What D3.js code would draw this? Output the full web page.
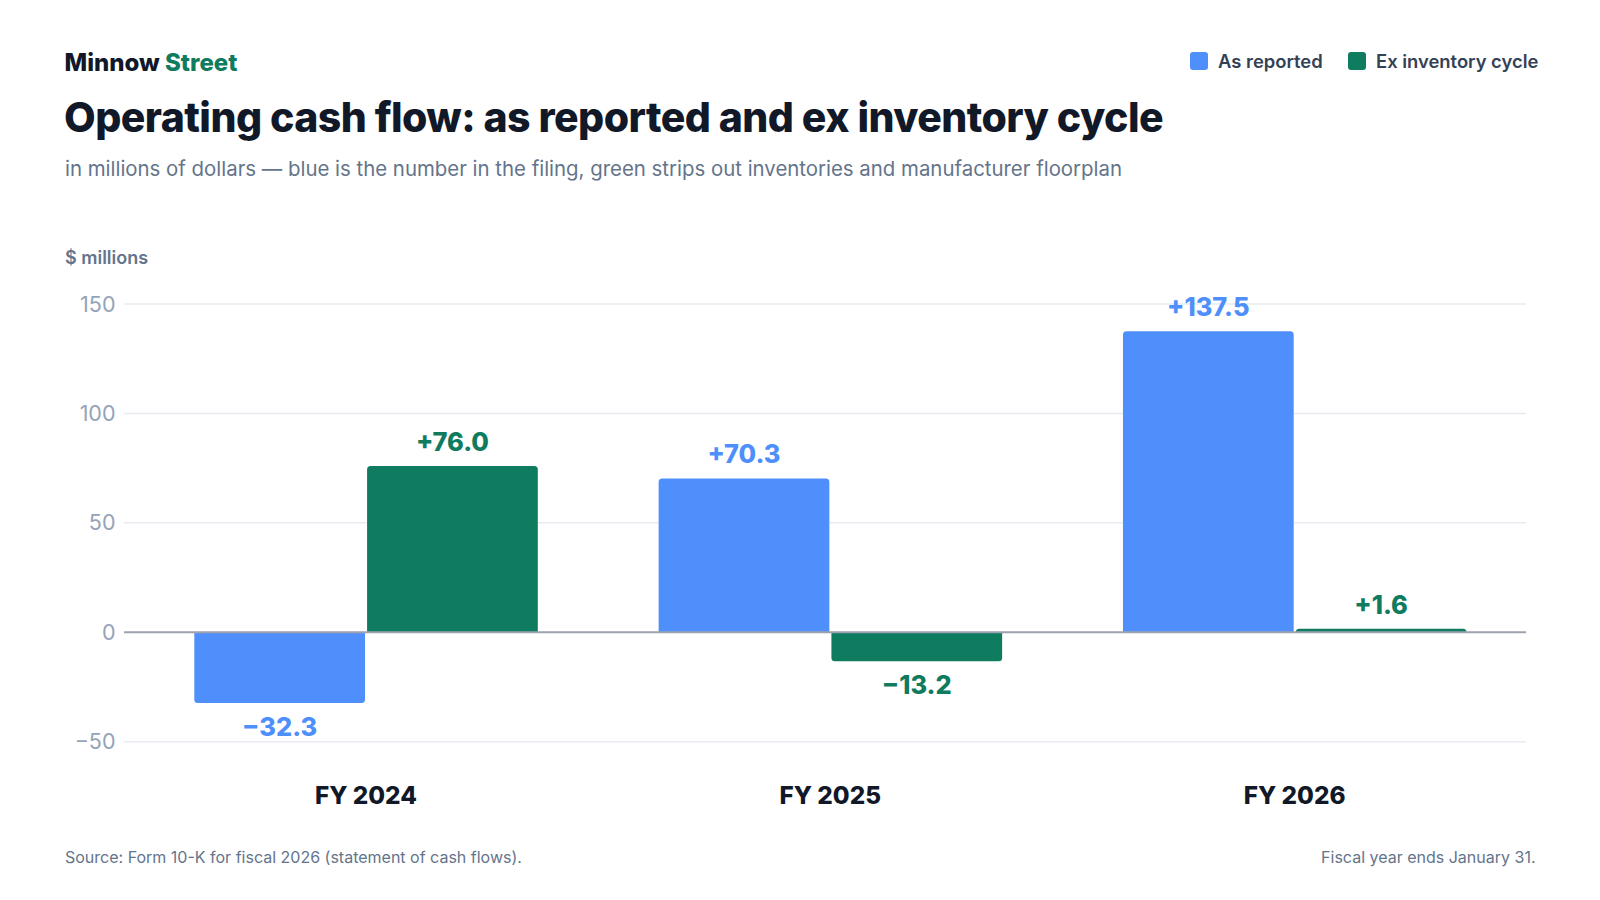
<!DOCTYPE html>
<html>
<head>
<meta charset="utf-8">
<script src="https://cdn.jsdelivr.net/npm/d3@7"></script>
<style>
body { margin: 0; background: #fff; }
svg { display: block; font-family: Inter, "Noto Sans", sans-serif; }
</style>
</head>
<body>
<script>
// chart data
var years = ["FY 2024", "FY 2025", "FY 2026"]
var series = ["As reported", "Ex inventory cycle"]
var asReported = [-32.3, 70.3, 137.5]
var exInventory = [76.0, -13.2, 1.6]
var yTicks = [-50, 0, 50, 100, 150]

var width = 1600, height = 900
var colors = {"As reported": "#4f8ffb", "Ex inventory cycle": "#0f7b5f"}

var svg = d3.select("body").append("svg")
	.attr("width", width)
	.attr("height", height)

// header
var brand = svg.append("text")
	.attr("x", 64.5).attr("y", 70.5)
	.attr("font-size", 24).attr("font-weight", 800)
	.attr("fill", "#111827")
brand.append("tspan").text("Minnow ")
brand.append("tspan").attr("fill", "#0f7b5f").text("Street")

svg.append("text")
	.attr("x", 64).attr("y", 132)
	.attr("font-size", 41).attr("font-weight", 800)
	.attr("letter-spacing", -0.55)
	.attr("fill", "#111827")
	.text("Operating cash flow: as reported and ex inventory cycle")

svg.append("text")
	.attr("x", 65).attr("y", 175.5)
	.attr("font-size", 20.4)
	.attr("fill", "#64748b")
	.text("in millions of dollars \u2014 blue is the number in the filing, green strips out inventories and manufacturer floorplan")

// legend
var legend = svg.append("g")
var legendItems = [
	{name: series[0], x: 1190},
	{name: series[1], x: 1348}
]
legendItems.forEach(function(d) {
	legend.append("rect")
		.attr("x", d.x).attr("y", 52)
		.attr("width", 18).attr("height", 18)
		.attr("rx", 3)
		.attr("fill", colors[d.name])
	legend.append("text")
		.attr("x", d.x + 28).attr("y", 68.3)
		.attr("font-size", 18.4).attr("font-weight", 600)
		.attr("fill", "#334155")
		.text(d.name)
})

svg.append("text")
	.attr("x", 65).attr("y", 264)
	.attr("font-size", 18).attr("font-weight", 600)
	.attr("fill", "#64748b")
	.text("$ millions")

// scales
var y = d3.scaleLinear()
	.domain([-50, 150])
	.range([741.7, 304])

var x0 = d3.scaleBand()
	.domain(years)
	.range([133.8, 1526.8])

var x1 = d3.scaleBand()
	.domain(series)
	.range([60.5, 404])
	.paddingInner(0.012)

var gridLeft = 124, gridRight = 1526

// gridlines + tick labels
svg.append("g").selectAll("line")
	.data(yTicks.filter(function(t) { return t !== 0 }))
	.enter().append("line")
	.attr("x1", gridLeft).attr("x2", gridRight)
	.attr("y1", function(t) { return y(t) }).attr("y2", function(t) { return y(t) })
	.attr("stroke", "#e8ecf1").attr("stroke-width", 1.5)

svg.append("g").selectAll("text")
	.data(yTicks)
	.enter().append("text")
	.attr("x", 115.5)
	.attr("y", function(t) { return y(t) + 7.5 })
	.attr("text-anchor", "end")
	.attr("font-size", 21.5)
	.attr("fill", "#94a3b8")
	.text(function(t) { return t < 0 ? "\u2212" + Math.abs(t) : t })

// bars
var rows = []
years.forEach(function(yr, i) {
	rows.push({year: yr, s: series[0], v: asReported[i]})
	rows.push({year: yr, s: series[1], v: exInventory[i]})
})

function barPath(d) {
	var bx = x0(d.year) + x1(d.s)
	var bw = x1.bandwidth()
	var y0 = y(0), yv = y(d.v)
	var r = Math.min(3.5, Math.abs(yv - y0))
	var k = d.v >= 0 ? 1 : -1
	return "M" + bx + "," + y0 +
		"V" + (yv + k * r) +
		"Q" + bx + "," + yv + " " + (bx + r) + "," + yv +
		"H" + (bx + bw - r) +
		"Q" + (bx + bw) + "," + yv + " " + (bx + bw) + "," + (yv + k * r) +
		"V" + y0 + "Z"
}

svg.append("g").selectAll("path")
	.data(rows)
	.enter().append("path")
	.attr("d", barPath)
	.attr("fill", function(d) { return colors[d.s] })

// zero line
svg.append("line")
	.attr("x1", gridLeft).attr("x2", gridRight)
	.attr("y1", y(0)).attr("y2", y(0))
	.attr("stroke", "#9ca3af").attr("stroke-width", 2)

// value labels
svg.append("g").selectAll("text")
	.data(rows)
	.enter().append("text")
	.attr("x", function(d) { return x0(d.year) + x1(d.s) + x1.bandwidth() / 2 })
	.attr("y", function(d) { return d.v >= 0 ? y(d.v) - 15 : y(d.v) + 33 })
	.attr("text-anchor", "middle")
	.attr("font-size", 25.4).attr("font-weight", 800)
	.attr("fill", function(d) { return colors[d.s] })
	.text(function(d) { return (d.v >= 0 ? "+" : "\u2212") + Math.abs(d.v).toFixed(1) })

// category labels
svg.append("g").selectAll("text")
	.data(years)
	.enter().append("text")
	.attr("x", function(d) { return x0(d) + x0.bandwidth() / 2 })
	.attr("y", 803.5)
	.attr("text-anchor", "middle")
	.attr("font-size", 24.3).attr("font-weight", 800)
	.attr("fill", "#111827")
	.text(function(d) { return d })

// footer
svg.append("text")
	.attr("x", 65).attr("y", 862.5)
	.attr("font-size", 16)
	.attr("fill", "#64748b")
	.text("Source: Form 10-K for fiscal 2026 (statement of cash flows).")

svg.append("text")
	.attr("x", 1535.5).attr("y", 862.5)
	.attr("text-anchor", "end")
	.attr("font-size", 16)
	.attr("fill", "#64748b")
	.text("Fiscal year ends January 31.")
</script>
</body>
</html>
